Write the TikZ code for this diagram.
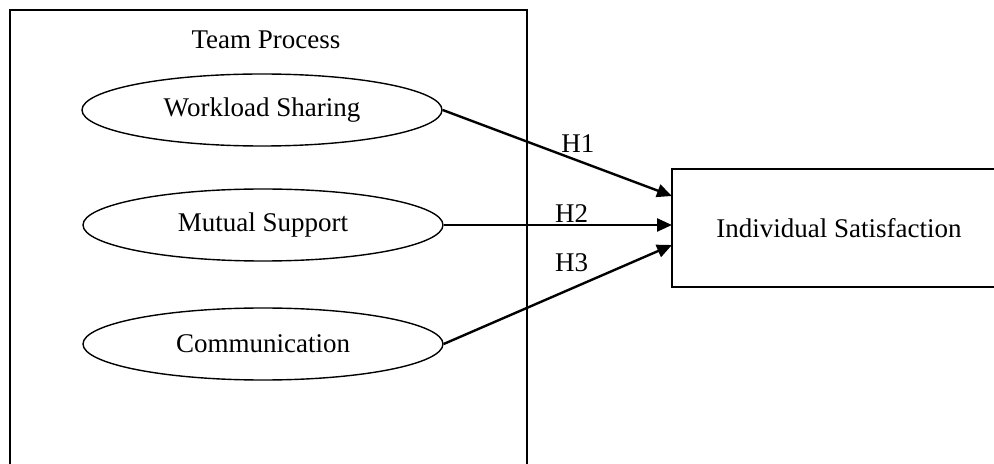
\documentclass[tikz,border=0pt]{standalone}
\usepackage{fontspec}
\setmainfont{Liberation Serif}
\usepackage{tikz}
\usetikzlibrary{shapes}
\usetikzlibrary{shapes.geometric}
\usetikzlibrary{arrows.meta}
\usetikzlibrary{positioning}

\tikzset{
  factor/.style={draw, ellipse, line width=0.7pt, minimum width=180pt, minimum height=36pt, inner sep=0pt},
  outcome/.style={draw, rectangle, line width=0.9pt, minimum width=167pt, minimum height=59pt, inner sep=0pt},
  hyp/.style={line width=1.2pt, -{Triangle[length=7.5pt,width=6.5pt]}},
}

\begin{document}
\begin{tikzpicture}[x=0.5pt, y=-0.5pt, font=\fontsize{13.5}{16}\selectfont]
  \useasboundingbox (0, 0) rectangle (994, 464);
  \draw[line width=0.9pt] (10, 10) rectangle (527, 480);
  \node (team) at (266, 40) {Team Process};

  \node[factor] (work) at (262, 110) {Workload Sharing};
  \node[factor] (mutual) at (263, 225) {Mutual Support};
  \node[factor] (comm) at (263, 344) {Communication};

  \node[outcome] (sat) at (839, 228) {Individual Satisfaction};

  \coordinate (in1) at (672, 196);
  \coordinate (in2) at (672, 225);
  \coordinate (in3) at (672, 245);

  \draw[hyp] (work.east) -- node[pos=0.59, yshift=8.5pt] {H1} (in1);
  \draw[hyp] (mutual.east) -- node[pos=0.56, yshift=5.5pt] {H2} (in2);
  \draw[hyp] (comm.east) -- node[pos=0.56, yshift=13pt] {H3} (in3);
\end{tikzpicture}
\end{document}
